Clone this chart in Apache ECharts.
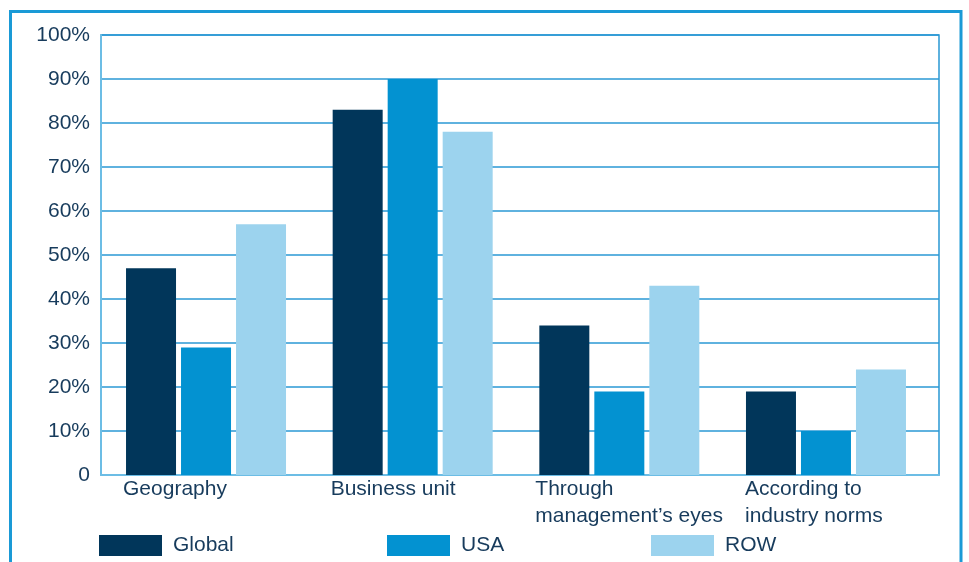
<!DOCTYPE html>
<html>
<head>
<meta charset="utf-8">
<script src="https://cdn.jsdelivr.net/npm/echarts@6/dist/echarts.min.js"></script>
<style>
  html, body { margin: 0; padding: 0; background: #ffffff; }
  #chart { width: 969px; height: 562px; }
</style>
</head>
<body>
<div id="chart"></div>
<script>
// Share of respondents by segmentation basis
const categories = ['Geography', 'Business unit', 'Through\nmanagement\u2019s eyes', 'According to\nindustry norms'];
const seriesNames = ['Global', 'USA', 'ROW'];
const globalValues = [47, 83, 34, 19];
const usaValues = [29, 90, 19, 10];
const rowValues = [57, 78, 43, 24];
const yTickLabels = ['0', '10%', '20%', '30%', '40%', '50%', '60%', '70%', '80%', '90%', '100%'];

const colors = ['#01365a', '#0392d1', '#9cd3ee'];
const textColor = '#173b5c';
const font = '"Liberation Sans", Arial, Helvetica, sans-serif';

// per-category left shift of the left-aligned category labels
const labelShift = [83, 82, 84, 81];
const rich = {};
labelShift.forEach((s, i) => {
  rich['c' + i] = {
    fontFamily: font, fontSize: 21, color: textColor, lineHeight: 27,
    padding: [0, 0, 0, -s]
  };
});

const chart = echarts.init(document.getElementById('chart'));

function legendFor(i, left) {
  return {
    data: [seriesNames[i]],
    left: left, top: 535,
    itemWidth: 63, itemHeight: 21,
    selectedMode: false,
    icon: 'rect',
    padding: 0,
    textStyle: { fontFamily: font, fontSize: 21, color: textColor, padding: [0, 0, 0, 6] }
  };
}

chart.setOption({
  animation: false,
  backgroundColor: '#ffffff',
  color: colors,
  grid: [
    // category band for the bars (slightly narrower than the framed area)
    { left: 102.7, right: 39.7, top: 35, bottom: 87 },
    // framed value area with gridlines
    { left: 101, right: 30, top: 35, bottom: 87,
      show: true, borderColor: '#2a98d4', borderWidth: 1.5 }
  ],
  legend: [legendFor(0, 99), legendFor(1, 387), legendFor(2, 651)],
  xAxis: [{
    gridIndex: 0,
    type: 'category',
    data: categories,
    axisTick: { show: false },
    axisLine: { show: false },
    axisLabel: {
      interval: 0,
      align: 'left',
      verticalAlign: 'top',
      margin: 1,
      formatter: function (value, idx) {
        return value.split('\n').map(l => '{c' + idx + '|' + l + '}').join('\n');
      },
      rich: rich
    }
  }, {
    gridIndex: 1,
    type: 'value',
    min: 0, max: 1,
    axisLine: { show: true, onZero: false, lineStyle: { color: '#6cbde5', width: 2 } },
    axisTick: { show: false },
    axisLabel: { show: false },
    splitLine: { show: false }
  }],
  yAxis: [{
    gridIndex: 0,
    type: 'value',
    min: 0, max: 100, interval: 10,
    axisLine: { show: false },
    axisTick: { show: false },
    axisLabel: { show: false },
    splitLine: { show: false }
  }, {
    gridIndex: 1,
    type: 'value',
    min: 0, max: 100, interval: 10,
    axisLine: { show: true, lineStyle: { color: '#6cbde5', width: 2 } },
    axisTick: { show: false },
    splitLine: { lineStyle: { color: '#2a98d4', width: 1.5 } },
    axisLabel: {
      margin: 11,
      fontFamily: font, fontSize: 21, color: textColor,
      formatter: function (v) { return yTickLabels[Math.round(v / 10)]; }
    }
  }],
  series: [
    { name: seriesNames[0], type: 'bar', data: globalValues, barWidth: 50, barGap: '10%', xAxisIndex: 0, yAxisIndex: 0, z: 5 },
    { name: seriesNames[1], type: 'bar', data: usaValues, barWidth: 50, barGap: '10%', xAxisIndex: 0, yAxisIndex: 0, z: 5 },
    { name: seriesNames[2], type: 'bar', data: rowValues, barWidth: 50, barGap: '10%', xAxisIndex: 0, yAxisIndex: 0, z: 5 }
  ],
  graphic: [{
    type: 'rect',
    silent: true,
    shape: { x: 10.5, y: 11.5, width: 950.5, height: 600 },
    style: { fill: null, stroke: '#1a9ad6', lineWidth: 3 }
  }]
});
</script>
</body>
</html>
